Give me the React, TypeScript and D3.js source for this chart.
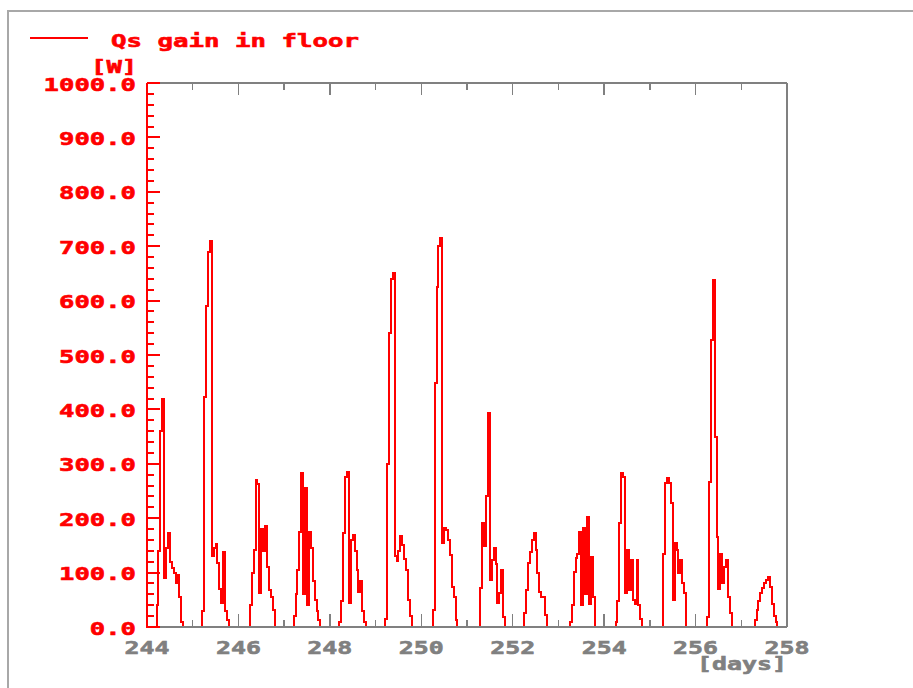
import React, { useEffect, useRef } from 'react';
import * as d3 from 'd3';

// hourly Qs gain in floor [W], one array per day
const day244 = [0, 0, 0, 0, 0, 40, 140, 360, 420, 90, 145, 172, 120, 108, 100, 80, 95, 55, 10, 0, 0, 0, 0, 0];
const day245 = [0, 0, 0, 0, 0, 30, 423, 590, 690, 710, 130, 145, 152, 118, 70, 45, 138, 30, 12, 0, 0, 0, 0, 0];
const day246 = [0, 0, 0, 0, 0, 0, 40, 100, 141, 270, 262, 62, 180, 140, 185, 110, 68, 55, 31, 0, 0, 0, 0, 0];
const day247 = [0, 0, 0, 0, 0, 20, 60, 105, 175, 283, 60, 255, 40, 175, 145, 85, 50, 30, 12, 0, 0, 0, 0, 0];
const day248 = [0, 0, 0, 0, 0, 10, 47, 173, 275, 285, 45, 160, 170, 140, 105, 65, 85, 30, 10, 0, 0, 0, 0, 0];
const day249 = [0, 0, 0, 0, 0, 15, 300, 540, 640, 650, 130, 122, 140, 168, 150, 125, 105, 50, 20, 0, 0, 0, 0, 0];
const day250 = [0, 0, 0, 0, 0, 0, 31, 448, 625, 700, 715, 155, 182, 178, 160, 132, 74, 56, 13, 0, 0, 0, 0, 0];
const day251 = [0, 0, 0, 0, 0, 0, 0, 72, 191, 148, 240, 393, 86, 123, 145, 115, 44, 62, 105, 19, 0, 0, 0, 0];
const day252 = [0, 0, 0, 0, 0, 0, 25, 68, 117, 138, 160, 172, 141, 99, 65, 56, 56, 22, 0, 0, 0, 0, 0, 0];
const day253 = [0, 0, 0, 0, 0, 0, 10, 40, 102, 127, 135, 175, 40, 182, 60, 203, 43, 129, 55, 0, 0, 0, 0, 0];
const day254 = [0, 0, 0, 0, 0, 0, 10, 47, 191, 283, 276, 62, 141, 68, 123, 50, 43, 123, 40, 15, 0, 0, 0, 0];
const day255 = [0, 0, 0, 0, 0, 0, 0, 135, 264, 273, 265, 228, 50, 154, 141, 99, 123, 80, 62, 0, 0, 0, 0, 0];
const day256 = [0, 0, 0, 0, 0, 0, 19, 267, 528, 638, 350, 166, 70, 135, 81, 110, 123, 55, 25, 0, 0, 0, 0, 0];
const day257 = [0, 0, 0, 0, 0, 0, 0, 13, 31, 47, 62, 72, 81, 86, 92, 74, 43, 20, 10, 0, 0, 0, 0, 0];

const dayStarts = [244, 245, 246, 247, 248, 249, 250, 251, 252, 253, 254, 255, 256, 257];
const dayValues = [day244, day245, day246, day247, day248, day249, day250, day251, day252, day253, day254, day255, day256, day257];

const xLabels = ['244', '246', '248', '250', '252', '254', '256', '258'];
const yLabels = ['0.0', '100.0', '200.0', '300.0', '400.0', '500.0', '600.0', '700.0', '800.0', '900.0', '1000.0'];

const RED = '#ff0000';
const GREY = '#808080';
const FONT = '"DejaVu Sans Mono", monospace';

export default function App() {
  const ref = useRef<SVGSVGElement>(null);

  useEffect(() => {
    const svg = d3.select(ref.current);
    svg.selectAll('*').remove();

    const x = d3.scaleLinear().domain([244, 258]).range([147, 787]);
    const y = d3.scaleLinear().domain([0, 1000]).range([627, 83]);

    // outer frame
    svg.append('rect')
      .attr('x', 8).attr('y', 11).attr('width', 1000).attr('height', 1000)
      .attr('fill', 'white').attr('stroke', '#a8a8a8').attr('stroke-width', 2);

    // legend
    svg.append('line')
      .attr('x1', 30).attr('x2', 88).attr('y1', 38).attr('y2', 38)
      .attr('stroke', RED).attr('stroke-width', 2);
    const txt = (s: string, xs: number, ys: number, pitch: number, color: string) =>
      svg.append('text')
        .attr('x', xs).attr('y', ys)
        .attr('textLength', s.length * pitch)
        .attr('lengthAdjust', 'spacingAndGlyphs')
        .attr('font-family', FONT).attr('font-weight', 'bold').attr('font-size', 18)
        .attr('fill', color)
        .attr('stroke', color).attr('stroke-width', 0.6)
        .text(s);
    txt('Qs gain in floor', 111, 47, 15.5, RED);
    txt('[W]', 91, 73, 15.4, RED);

    // data
    const pts: { t: number, v: number }[] = [];
    dayValues.forEach((vals, i) => {
      vals.forEach((v, h) => pts.push({ t: dayStarts[i] + h / 24, v }));
    });
    pts.push({ t: 258, v: 0 });
    const line = d3.line<{ t: number, v: number }>()
      .x((d) => x(d.t))
      .y((d) => y(d.v))
      .curve(d3.curveStepAfter);
    svg.append('path')
      .attr('d', line(pts) as string)
      .attr('fill', 'none')
      .attr('stroke', RED)
      .attr('stroke-width', 2)
      .attr('shape-rendering', 'crispEdges');

    // frame: top, right, bottom grey
    const g = svg.append('g').attr('shape-rendering', 'crispEdges');
    g.append('line').attr('x1', 147).attr('x2', 787).attr('y1', 83).attr('y2', 83)
      .attr('stroke', GREY).attr('stroke-width', 2);
    g.append('line').attr('x1', 787).attr('x2', 787).attr('y1', 83).attr('y2', 627)
      .attr('stroke', GREY).attr('stroke-width', 2);
    g.append('line').attr('x1', 147).attr('x2', 787).attr('y1', 627).attr('y2', 627)
      .attr('stroke', GREY).attr('stroke-width', 2);

    // x ticks (every day, long on even days)
    const xt = d3.range(245, 258);
    xt.forEach((d) => {
      const len = d % 2 === 0 ? 13 : 7;
      g.append('line').attr('x1', x(d)).attr('x2', x(d)).attr('y1', 627).attr('y2', 627 - len)
        .attr('stroke', GREY).attr('stroke-width', 1.5);
      g.append('line').attr('x1', x(d)).attr('x2', x(d)).attr('y1', 83).attr('y2', 83 + (d % 2 === 0 ? 12 : 7))
        .attr('stroke', GREY).attr('stroke-width', 1.5);
    });
    xLabels.forEach((s) => {
      const px = x(+s);
      txt(s, px - 22.5, 654, 15, GREY);
    });
    txt('[days]', 697, 670, 15, GREY);

    // y axis red
    g.append('line').attr('x1', 147).attr('x2', 147).attr('y1', 83).attr('y2', 628)
      .attr('stroke', RED).attr('stroke-width', 2);
    d3.range(0, 1001, 20).forEach((v) => {
      const len = v % 100 === 0 ? 13 : 7;
      g.append('line').attr('x1', 147).attr('x2', 147 + len).attr('y1', y(v)).attr('y2', y(v))
        .attr('stroke', RED).attr('stroke-width', 2);
    });
    yLabels.forEach((s) => {
      const v = parseFloat(s);
      txt(s, 136 - s.length * 15.4, y(v) + 7.5, 15.4, RED);
    });
  }, []);

  return (
    <svg
      ref={ref}
      width={913}
      height={688}
      style={{ position: 'absolute', left: 0, top: 0, background: 'white' }}
    />
  );
}
